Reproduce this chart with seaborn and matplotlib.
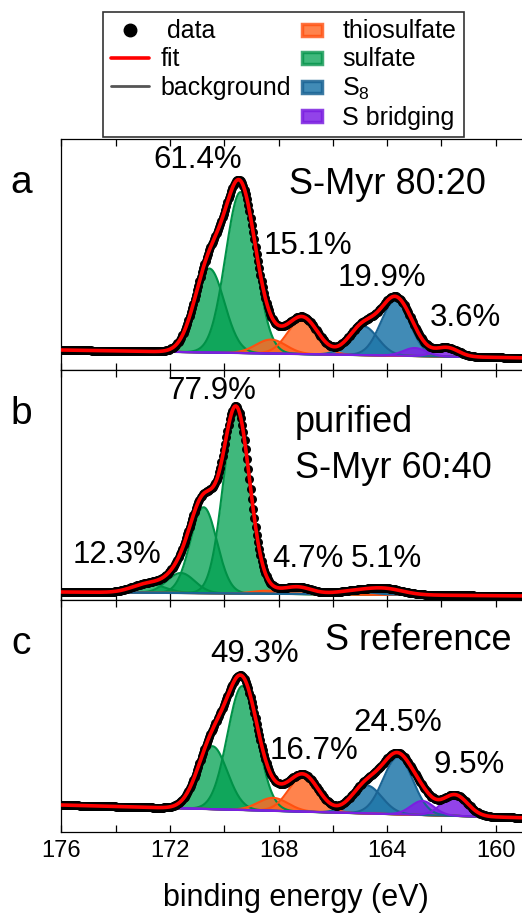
import numpy as np
import pandas as pd
import matplotlib
matplotlib.use("Agg")
import matplotlib.pyplot as plt
import seaborn as sns
from matplotlib.patches import Rectangle
from matplotlib.lines import Line2D
from matplotlib.legend_handler import HandlerPatch

# ---------------- data ----------------
# fitted component parameters: centres (eV), heights (a.u., above background), FWHM (eV)
a_sulfate_c = [169.40, 170.55]; a_sulfate_h = [161, 84]; a_sulfate_w = [1.3, 1.3]
a_thio_c = [167.10, 168.28];    a_thio_h = [36, 14];     a_thio_w = [1.3, 1.3]
a_s8_c = [163.70, 164.88];      a_s8_h = [55, 29];       a_s8_w = [1.25, 1.25]
a_sbr_c = [161.80, 162.98];     a_sbr_h = [9, 8];        a_sbr_w = [1.0, 1.0]
a_bg = [20, 12]          # background at 176 eV and at right edge

b_sulfate_c = [169.55, 170.76, 171.60, 172.80]; b_sulfate_h = [183, 86, 20, 9]
b_sulfate_w = [1.15, 1.15, 1.2, 1.4]
b_thio_c = [167.30, 168.45];    b_thio_h = [7, 3];       b_thio_w = [1.2, 1.2]
b_s8_c = [164.10, 165.25];      b_s8_h = [6, 3];         b_s8_w = [1.6, 1.6]
b_sbr_c = [];                   b_sbr_h = [];            b_sbr_w = []
b_bg = [8, 4]

c_sulfate_c = [169.33, 170.44]; c_sulfate_h = [124, 63]; c_sulfate_w = [1.3, 1.3]
c_thio_c = [167.07, 168.20];    c_thio_h = [36, 13];     c_thio_w = [1.3, 1.3]
c_s8_c = [163.60, 164.75];      c_s8_h = [57, 28];       c_s8_w = [1.3, 1.3]
c_sbr_c = [161.50, 162.70];     c_sbr_h = [21, 14];      c_sbr_w = [1.1, 1.0]
c_bg = [27, 14]

a_labels = ["61.4%", "15.1%", "19.9%", "3.6%"]
b_labels = ["77.9%", "12.3%", "4.7%", "5.1%"]
c_labels = ["49.3%", "16.7%", "24.5%", "9.5%"]
sample_names = ["S-Myr 80:20", "purified\nS-Myr 60:40", "S reference"]
panel_letters = ["a", "b", "c"]
x_ticks = [176, 172, 168, 164, 160]
x_minor = [174, 170, 166, 162]
legend_names = ["data", "fit", "background", "thiosulfate", "sulfate", "S$_8$", "S bridging"]

# ---------------- style ----------------
sns.set_theme(style="white")
plt.rcParams["font.family"] = ["Liberation Sans", "DejaVu Sans"]
plt.rcParams["mathtext.fontset"] = "custom"
plt.rcParams["mathtext.rm"] = "Liberation Sans"
plt.rcParams["mathtext.it"] = "Liberation Sans"
plt.rcParams["text.color"] = "black"
plt.rcParams["xtick.color"] = "black"
plt.rcParams["axes.labelcolor"] = "black"

comp_style = {
    "sulfate": ("#00A050", "#009147", 0.75),
    "thiosulfate": ("#FF6420", "#FF5010", 0.8),
    "S8": ("#1F77AA", "#1B6494", 0.85),
    "Sbr": ("#7F22E6", "#7B1FE0", 0.85),
}

W, H = 522, 918
fig = plt.figure(figsize=(W / 100, H / 100), dpi=100)
px_per_ev = 27.14
x_left_px, x_right_px = 61.4, 532.0
xlim = (176.0, 176.0 - (x_right_px - x_left_px) / px_per_ev)
panel_px = [(139, 370), (370, 600), (600, 832)]

E = np.arange(176.0, xlim[1] - 0.01, -0.045)


def gauss(x, c, h, w):
    return h * np.exp(-4 * np.log(2) * ((x - c) / w) ** 2)


panels = [
    dict(bg=a_bg, comps=[("sulfate", a_sulfate_c, a_sulfate_h, a_sulfate_w),
                         ("thiosulfate", a_thio_c, a_thio_h, a_thio_w),
                         ("S8", a_s8_c, a_s8_h, a_s8_w),
                         ("Sbr", a_sbr_c, a_sbr_h, a_sbr_w)]),
    dict(bg=b_bg, comps=[("sulfate", b_sulfate_c, b_sulfate_h, b_sulfate_w),
                         ("thiosulfate", b_thio_c, b_thio_h, b_thio_w),
                         ("S8", b_s8_c, b_s8_h, b_s8_w),
                         ("Sbr", b_sbr_c, b_sbr_h, b_sbr_w)]),
    dict(bg=c_bg, comps=[("sulfate", c_sulfate_c, c_sulfate_h, c_sulfate_w),
                         ("thiosulfate", c_thio_c, c_thio_h, c_thio_w),
                         ("S8", c_s8_c, c_s8_h, c_s8_w),
                         ("Sbr", c_sbr_c, c_sbr_h, c_sbr_w)]),
]

# label positions (eV, height)
label_pos = [
    [(170.97, 210), (166.92, 124), (164.2, 92.5), (161.1, 52)],
    [(170.45, 209), (173.96, 45), (166.93, 41), (164.04, 41)],
    [(168.87, 178), (166.71, 81), (163.62, 109), (160.98, 67)],
]
all_labels = [a_labels, b_labels, c_labels]
pct_fs = 22.5

axes = []
for i, (p, (top, bot)) in enumerate(zip(panels, panel_px)):
    ax = fig.add_axes([x_left_px / W, (H - bot) / H, (x_right_px - x_left_px) / W, (bot - top) / H])
    axes.append(ax)
    bg = p["bg"][0] + (p["bg"][1] - p["bg"][0]) * (176.0 - E) / (176.0 - xlim[1])
    total = bg.copy()
    sns.lineplot(x=E, y=bg, ax=ax, color="#555555", lw=1.6, sort=False, estimator=None, zorder=2)
    for name, cs, hs, ws in p["comps"]:
        face, edge, alpha = comp_style[name]
        for c, h, w in zip(cs, hs, ws):
            g = gauss(E, c, h, w)
            total = total + g
            ax.fill_between(E, bg, bg + g, color=face, alpha=alpha, lw=0, zorder=3)
            sns.lineplot(x=E, y=bg + g, ax=ax, color=edge, lw=1.5, sort=False, estimator=None, zorder=4)
    df = pd.DataFrame({"E": E, "I": total})
    sns.scatterplot(data=df, x="E", y="I", ax=ax, color="black", s=42, linewidth=0, zorder=5)
    sns.lineplot(data=df, x="E", y="I", ax=ax, color="#FF0000", lw=2.6, sort=False, estimator=None, zorder=6)

    ax.set_xlim(*xlim)
    ax.set_ylim(0, bot - top)
    ax.set_yticks([])
    ax.set_xticks(x_ticks)
    ax.set_xticks(x_minor, minor=True)
    ax.tick_params(axis="x", which="both", direction="in", top=True, bottom=True,
                   length=5, width=0.9, color="black", labelcolor="black", labelsize=17, pad=6)
    for s in ax.spines.values():
        s.set_color("black")
        s.set_linewidth(0.9)
    ax.set_ylabel("")
    ax.set_xlabel("")
    if i < 2:
        ax.tick_params(axis="x", labelbottom=False)

    for txt, (xe, yh) in zip(all_labels[i], label_pos[i]):
        ax.text(xe, yh, txt, fontsize=pct_fs, ha="center", va="center", zorder=8, color="black")

    fig.text(21 / W, 1 - (top + 44) / H, panel_letters[i], fontsize=28, ha="center", va="center",
             color="black")

# sample names
axes[0].text(164.0, 186, sample_names[0], fontsize=26, ha="center", va="center", zorder=8)
l1, l2 = sample_names[1].split("\n")
axes[1].text(167.39, 168, l1, fontsize=26, ha="left", va="baseline", zorder=8)
axes[1].text(167.39, 122, l2, fontsize=26, ha="left", va="baseline", zorder=8)
axes[2].text(162.86, 192, sample_names[2], fontsize=26, ha="center", va="center", zorder=8)

axes[2].tick_params(axis="x", labelbottom=True)
fig.text(296 / W, 1 - 898 / H, "binding energy (eV)", fontsize=22, ha="center", va="center")


# ---------------- legend ----------------
def small_patch(legend, orig_handle, xdescent, ydescent, width, height, fontsize):
    return Rectangle((-xdescent + width / 2 - 7.2, -ydescent + height / 2 - 4.3), 14.4, 8.6)


h_data = Line2D([], [], marker="o", ls="none", color="black", markersize=9)
h_fit = Line2D([], [], color="#FF0000", lw=2.6)
h_bg = Line2D([], [], color="#555555", lw=2.0)
h_blank = Line2D([], [], color="none")
h_patches = [Rectangle((0, 0), 1, 1, facecolor=comp_style[k][0], alpha=comp_style[k][2],
                       edgecolor=comp_style[k][1], lw=2.5)
             for k in ["thiosulfate", "sulfate", "S8", "Sbr"]]
handles = [h_data, h_fit, h_bg, h_blank] + h_patches
labels = [" " + legend_names[0], legend_names[1], legend_names[2], ""] + legend_names[3:]
hmap = {p: HandlerPatch(patch_func=small_patch) for p in h_patches}
leg = fig.legend(handles, labels, ncol=2, loc="upper left",
                 bbox_to_anchor=(103 / W, 1 - 12 / H), frameon=True, fancybox=False,
                 edgecolor="black", fontsize=18, handlelength=1.55, handletextpad=0.45,
                 columnspacing=0.05, labelspacing=0.16, borderpad=0.3, borderaxespad=0,
                 handler_map=hmap)
leg.get_frame().set_linewidth(1.2)
for t in leg.get_texts():
    t.set_color("black")

fig.savefig("out.png", dpi=100)
